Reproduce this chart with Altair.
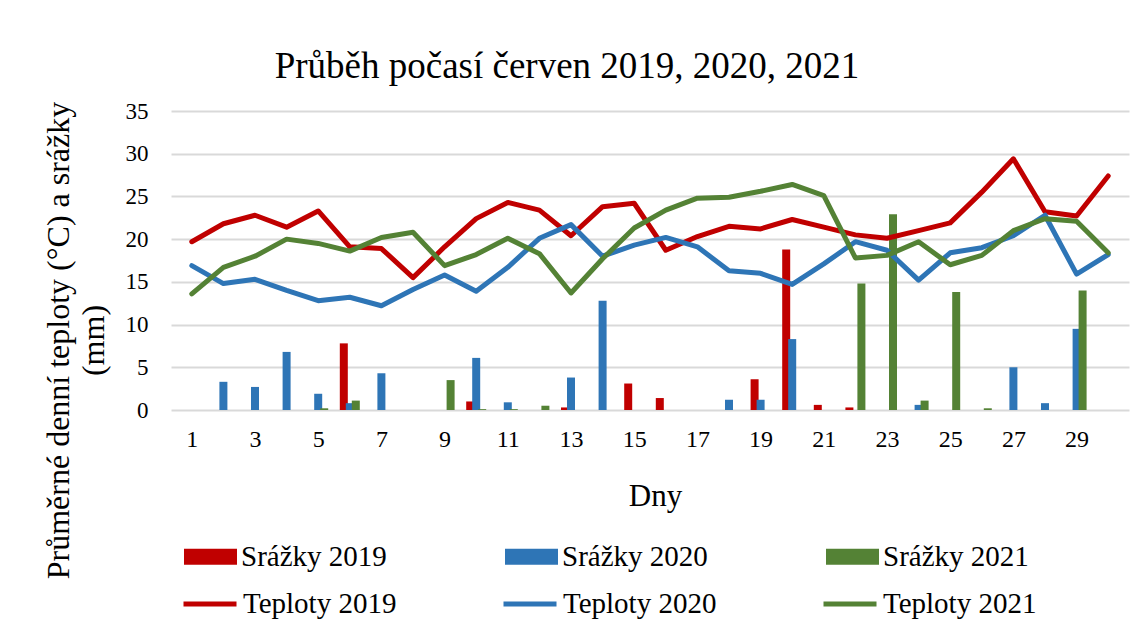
import altair as alt
import pandas as pd

days = list(range(1, 31))

teploty_2019 = [19.7, 21.8, 22.8, 21.4, 23.3, 19.1, 18.9, 15.5, 19.1, 22.4,
                24.3, 23.4, 20.4, 23.8, 24.2, 18.7, 20.3, 21.5, 21.2, 22.3,
                21.4, 20.5, 20.1, 21.0, 21.9, 25.5, 29.4, 23.2, 22.7, 27.4]
teploty_2020 = [16.9, 14.8, 15.3, 14.0, 12.8, 13.2, 12.2, 14.1, 15.8, 13.9,
                16.7, 20.1, 21.7, 18.0, 19.3, 20.2, 19.1, 16.3, 16.0, 14.7,
                17.1, 19.7, 18.7, 15.2, 18.4, 19.0, 20.4, 22.8, 15.9, 18.2]
teploty_2021 = [13.6, 16.7, 18.0, 20.0, 19.5, 18.6, 20.2, 20.8, 16.9, 18.2,
                20.1, 18.3, 13.7, 17.7, 21.3, 23.4, 24.8, 24.9, 25.6, 26.4,
                25.1, 17.8, 18.1, 19.7, 17.0, 18.1, 21.0, 22.4, 22.1, 18.4]

srazky_2019 = [0, 0, 0, 0, 0, 7.8, 0, 0, 0, 1.0,
               0, 0, 0.3, 0, 3.1, 1.4, 0, 0, 3.6, 18.8,
               0.6, 0.3, 0, 0, 0, 0, 0, 0, 0, 0]
srazky_2020 = [0, 3.3, 2.7, 6.8, 1.9, 0.8, 4.3, 0, 0, 6.1,
               0.9, 0, 3.8, 12.8, 0, 0, 0, 1.2, 1.2, 8.3,
               0, 0, 0, 0.6, 0, 0, 5.0, 0.8, 9.5, 0]
srazky_2021 = [0, 0, 0, 0, 0.2, 1.1, 0, 0, 3.5, 0.1,
               0.1, 0.5, 0, 0, 0, 0, 0, 0, 0, 0,
               0, 14.8, 22.9, 1.1, 13.8, 0.2, 0, 0, 14.0, 0]

bar_names = ["Srážky 2019", "Srážky 2020", "Srážky 2021"]
line_names = ["Teploty 2019", "Teploty 2020", "Teploty 2021"]
colors = ["#C00000", "#2E75B6", "#548235"]
x_ticks = list(range(1, 30, 2))

rows = []
for name, vals in zip(bar_names, [srazky_2019, srazky_2020, srazky_2021]):
    for d, v in zip(days, vals):
        rows.append({"den": d, "hodnota": v, "rada": name})
bars_df = pd.DataFrame(rows)

rows = []
for name, vals in zip(line_names, [teploty_2019, teploty_2020, teploty_2021]):
    for d, v in zip(days, vals):
        rows.append({"den": d, "hodnota": v, "rada": name})
lines_df = pd.DataFrame(rows)

FONT = "'Times New Roman', 'Liberation Serif', serif"

x_enc = alt.X(
    "den:Q",
    scale=alt.Scale(domain=[0.5, 30.5], nice=False, zero=False),
    axis=alt.Axis(
        values=x_ticks, grid=False, domain=False, ticks=False,
        labelFontSize=24, labelPadding=17, labelBaseline="top",
        title="Dny", titleFontSize=31, titleFontWeight="normal",
        titleY=95, titleX=484, titleBaseline="alphabetic",
    ),
)
y_enc = alt.Y(
    "hodnota:Q",
    scale=alt.Scale(domain=[0, 35], nice=False),
    axis=alt.Axis(
        values=[0, 5, 10, 15, 20, 25, 30, 35], domain=False, ticks=False,
        gridColor="#d9d9d9", gridWidth=2,
        labelFontSize=23, labelPadding=23,
        title=["Průměrné denní teploty (°C) a srážky", "(mm)"],
        titleFontSize=32, titleFontWeight="normal", titleAngle=270,
        titleX=-113, titleY=229, titleAlign="center", titleBaseline="middle",
        titleLineHeight=35,
    ),
)

fill_scale = alt.Scale(domain=bar_names, range=colors)
stroke_scale = alt.Scale(domain=line_names, range=colors)

offsets = [-6, 0, 6]
bar_layers = []
for i, name in enumerate(bar_names):
    legend = None
    if i == 0:
        legend = alt.Legend(
            title=None, orient="none", direction="horizontal",
            legendX=13, legendY=419, padding=0,
            symbolType="M-1,-0.3H1V0.3H-1Z", symbolSize=2809,
            symbolStrokeWidth=0, labelFontSize=29, labelOffset=4,
            columnPadding=118, labelLimit=400,
        )
    layer = alt.Chart(bars_df).transform_filter(
        alt.datum.rada == name
    ).mark_bar(size=8, xOffset=offsets[i]).encode(
        x=x_enc,
        y=y_enc,
        fill=alt.Fill("rada:N", scale=fill_scale, legend=legend),
    )
    bar_layers.append(layer)

lines = alt.Chart(lines_df).mark_line(
    strokeWidth=5, strokeCap="round", strokeJoin="round"
).encode(
    x=x_enc,
    y=y_enc,
    stroke=alt.Stroke(
        "rada:N", scale=stroke_scale,
        legend=alt.Legend(
            title=None, orient="none", direction="horizontal",
            legendX=10, legendY=464, padding=0,
            symbolType="stroke", symbolSize=2809, symbolStrokeWidth=5,
            labelFontSize=29, labelOffset=4, columnPadding=96, labelLimit=400,
        ),
    ),
)

chart = alt.layer(*bar_layers, lines).resolve_scale(
    fill="shared", stroke="independent"
).properties(
    width=958,
    height=299,
    autosize=alt.AutoSizeParams(type="none"),
    padding={"left": 163, "top": 103, "right": 5, "bottom": 214},
    title=alt.TitleParams(
        "Průběh počasí červen 2019, 2020, 2021",
        fontSize=37, fontWeight="normal", anchor="middle", frame="group",
        dx=-83, dy=49, baseline="alphabetic", offset=34,
    ),
).configure(
    font=FONT,
    background="white",
).configure_view(
    stroke=None,
).configure_axis(
    labelColor="black", titleColor="black", labelFont=FONT, titleFont=FONT,
).configure_legend(
    labelColor="black", labelFont=FONT,
).configure_title(
    font=FONT, color="black",
)

chart.save("out.html", embed_options={"renderer": "svg", "actions": False})
